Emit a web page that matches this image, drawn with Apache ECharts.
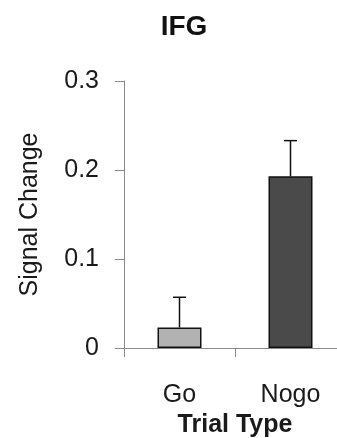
<!DOCTYPE html>
<html>
<head>
<meta charset="utf-8">
<script src="https://cdn.jsdelivr.net/npm/echarts@6/dist/echarts.min.js"></script>
<style>html,body{margin:0;padding:0;background:#fff;}#c{width:337px;height:438px;}</style>
</head>
<body>
<div id="c"></div>
<script>
var categories = ['Go', 'Nogo'];
var means = [0.023, 0.193];
var errors = [0.034, 0.040];
var barColors = ['#b2b2b2', '#4a4a4a'];
var yTicks = [0, 0.1, 0.2, 0.3];

var chart = echarts.init(document.getElementById('c'));
var font = 'Liberation Sans, Arial, sans-serif';
chart.setOption({
  animation: false,
  backgroundColor: '#ffffff',
  title: {
    text: 'IFG', left: 179, top: 8, textAlign: 'center',
    textStyle: {fontFamily: font, fontSize: 28, fontWeight: 'bold', color: '#111'}
  },
  grid: {left: 124, right: -9, top: 81, bottom: 90, containLabel: false, outerBoundsMode: 'none'},
  xAxis: {
    type: 'category', data: categories, boundaryGap: true,
    name: 'Trial Type', nameLocation: 'middle', nameGap: 62,
    nameTextStyle: {fontFamily: font, fontSize: 25, fontWeight: 'bold', color: '#1a1a1a'},
    axisLine: {show: true, lineStyle: {color: '#8a8a8a', width: 1}},
    axisTick: {show: true, length: 9, alignWithLabel: false, lineStyle: {color: '#8a8a8a'}},
    axisLabel: {fontFamily: font, fontSize: 25, color: '#1a1a1a', margin: 35}
  },
  yAxis: {
    type: 'value', min: 0, max: 0.3, interval: 0.1,
    name: 'Signal Change', nameLocation: 'middle', nameGap: 81,
    nameTextStyle: {fontFamily: font, fontSize: 25, color: '#1a1a1a'},
    axisLine: {show: true, lineStyle: {color: '#8a8a8a', width: 1}},
    axisTick: {show: true, length: 9, lineStyle: {color: '#8a8a8a'}},
    splitLine: {show: false},
    axisLabel: {fontFamily: font, fontSize: 25, color: '#1a1a1a', margin: 25, padding: [6, 0, 0, 0],
      formatter: function (v) { return yTicks.indexOf(v) >= 0 ? String(v) : ''; }}
  },
  series: [
    {
      type: 'bar', barWidth: 44,
      data: means.map(function (v, i) {
        return {value: v, itemStyle: {color: barColors[i], borderColor: '#111', borderWidth: 1.5}};
      }),
      z: 2
    },
    {
      type: 'custom', z: 3,
      data: means.map(function (v, i) { return [i, v, v + errors[i]]; }),
      renderItem: function (params, api) {
        var lo = api.coord([api.value(0), api.value(1)]);
        var hi = api.coord([api.value(0), api.value(2)]);
        var hw = 6.5;
        return {
          type: 'group',
          children: [
            {type: 'line', shape: {x1: lo[0], y1: lo[1], x2: hi[0], y2: hi[1]}, style: {stroke: '#111', lineWidth: 1.5}},
            {type: 'line', shape: {x1: hi[0] - hw, y1: hi[1], x2: hi[0] + hw, y2: hi[1]}, style: {stroke: '#111', lineWidth: 1.5}}
          ]
        };
      }
    }
  ]
});
</script>
</body>
</html>
